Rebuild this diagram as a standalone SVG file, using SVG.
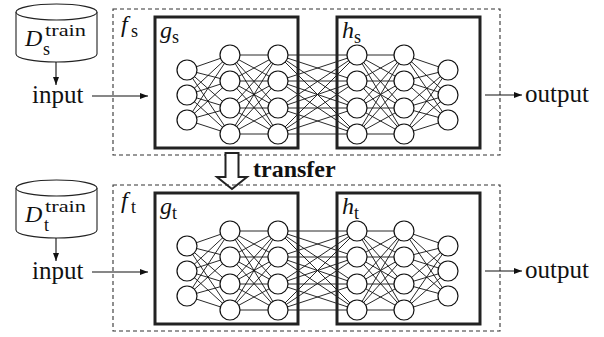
<svg xmlns="http://www.w3.org/2000/svg" xmlns:xlink="http://www.w3.org/1999/xlink" width="604" height="337" viewBox="0 0 604 337">
<style>
.dash{fill:none;stroke:#333;stroke-width:1.1;stroke-dasharray:4 3}
.box{fill:none;stroke:#222;stroke-width:3}
.edge{fill:none;stroke:#111;stroke-width:0.9}
.neu{fill:#fff;stroke:#111;stroke-width:1.2}
.conn{fill:none;stroke:#111;stroke-width:1.1}
.cyl{fill:#fff;stroke:#222;stroke-width:1.1}
text{fill:#111}
.it{font-style:italic}
.big{font-size:25px}
.lab{font-size:24px}
.sub{font-size:18px}
.sup{font-size:17px}
.bold{font-weight:bold;font-size:24px}
</style>
<defs>
<marker id="ah" viewBox="0 0 8 6" markerWidth="8" markerHeight="6" refX="8" refY="3" orient="auto" markerUnits="userSpaceOnUse">
<path d="M0 0L8 3L0 6z" fill="#111"/>
</marker>
<g id="net">
<path class="edge" d="M187 70L230 55M187 70L230 81M187 70L230 108M187 70L230 134M187 95L230 55M187 95L230 81M187 95L230 108M187 95L230 134M187 120L230 55M187 120L230 81M187 120L230 108M187 120L230 134"/>
<path class="edge" d="M230 55L278 55M230 55L278 81M230 55L278 108M230 55L278 134M230 81L278 55M230 81L278 81M230 81L278 108M230 81L278 134M230 108L278 55M230 108L278 81M230 108L278 108M230 108L278 134M230 134L278 55M230 134L278 81M230 134L278 108M230 134L278 134"/>
<path class="edge" d="M278 55L357 55M278 55L357 81M278 55L357 108M278 55L357 134M278 81L357 55M278 81L357 81M278 81L357 108M278 81L357 134M278 108L357 55M278 108L357 81M278 108L357 108M278 108L357 134M278 134L357 55M278 134L357 81M278 134L357 108M278 134L357 134"/>
<path class="edge" d="M357 55L404 55M357 55L404 81M357 55L404 108M357 55L404 134M357 81L404 55M357 81L404 81M357 81L404 108M357 81L404 134M357 108L404 55M357 108L404 81M357 108L404 108M357 108L404 134M357 134L404 55M357 134L404 81M357 134L404 108M357 134L404 134"/>
<path class="edge" d="M404 55L448 70M404 55L448 95M404 55L448 120M404 81L448 70M404 81L448 95M404 81L448 120M404 108L448 70M404 108L448 95M404 108L448 120M404 134L448 70M404 134L448 95M404 134L448 120"/>
<rect class="box" x="155" y="17" width="143" height="131"/>
<rect class="box" x="337" y="17" width="143" height="131"/>
<circle class="neu" cx="187" cy="70" r="10"/><circle class="neu" cx="187" cy="95" r="10"/><circle class="neu" cx="187" cy="120" r="10"/>
<circle class="neu" cx="230" cy="55" r="10"/><circle class="neu" cx="230" cy="81" r="10"/><circle class="neu" cx="230" cy="108" r="10"/><circle class="neu" cx="230" cy="134" r="10"/>
<circle class="neu" cx="278" cy="55" r="10"/><circle class="neu" cx="278" cy="81" r="10"/><circle class="neu" cx="278" cy="108" r="10"/><circle class="neu" cx="278" cy="134" r="10"/>
<circle class="neu" cx="357" cy="55" r="10"/><circle class="neu" cx="357" cy="81" r="10"/><circle class="neu" cx="357" cy="108" r="10"/><circle class="neu" cx="357" cy="134" r="10"/>
<circle class="neu" cx="404" cy="55" r="10"/><circle class="neu" cx="404" cy="81" r="10"/><circle class="neu" cx="404" cy="108" r="10"/><circle class="neu" cx="404" cy="134" r="10"/>
<circle class="neu" cx="448" cy="70" r="10"/><circle class="neu" cx="448" cy="95" r="10"/><circle class="neu" cx="448" cy="120" r="10"/>
</g>
<g id="cylinder">
<path class="cyl" d="M16 12V54A40.5 8 0 0 0 97 54V12"/>
<ellipse class="cyl" cx="56.5" cy="12" rx="40.5" ry="8"/>
</g>
</defs>
<rect width="604" height="337" fill="#fff"/>

<g font-family="'Liberation Serif', 'DejaVu Serif', serif">
<g id="source">
<g id="data-s">
<use xlink:href="#cylinder"/>
<text class="lab"><tspan class="it" x="25" y="46">D</tspan><tspan class="sup" x="45" y="36" textLength="41" lengthAdjust="spacingAndGlyphs">train</tspan><tspan class="sub" x="43" y="55">s</tspan></text>
</g>
<g id="input-s"><text class="big" x="32" y="103">input</text></g>
<g id="f-s">
<rect class="dash" x="113" y="9" width="387" height="146"/>
<text class="lab"><tspan class="it" x="121" y="32">f</tspan><tspan class="sub" x="131" y="37">s</tspan></text>
</g>
<g id="net-s">
<use xlink:href="#net"/>
</g>
<g id="g-s"><text class="lab"><tspan class="it" x="160" y="38">g</tspan><tspan class="sub" x="172" y="43">s</tspan></text></g>
<g id="h-s"><text class="lab"><tspan class="it" x="342" y="38">h</tspan><tspan class="sub" x="354" y="43">s</tspan></text></g>
<g id="output-s"><text class="big" x="525" y="102">output</text></g>
</g>

<g id="transfer">
<path d="M225.5 153H238.5V177H247L232 189L217 177H225.5Z" fill="#fff" stroke="#222" stroke-width="2" stroke-linejoin="miter"/>
<text class="bold" x="253" y="177">transfer</text>
</g>

<g id="target">
<g id="data-t">
<use xlink:href="#cylinder" y="176"/>
<text class="lab"><tspan class="it" x="25" y="222">D</tspan><tspan class="sup" x="45" y="212" textLength="41" lengthAdjust="spacingAndGlyphs">train</tspan><tspan class="sub" x="44" y="231">t</tspan></text>
</g>
<g id="input-t"><text class="big" x="32" y="279">input</text></g>
<g id="f-t">
<rect class="dash" x="113" y="185" width="387" height="146"/>
<text class="lab"><tspan class="it" x="121" y="208">f</tspan><tspan class="sub" x="131" y="213">t</tspan></text>
</g>
<g id="net-t">
<use xlink:href="#net" y="176"/>
</g>
<g id="g-t"><text class="lab"><tspan class="it" x="160" y="214">g</tspan><tspan class="sub" x="172" y="219">t</tspan></text></g>
<g id="h-t"><text class="lab"><tspan class="it" x="342" y="214">h</tspan><tspan class="sub" x="354" y="219">t</tspan></text></g>
<g id="output-t"><text class="big" x="525" y="278">output</text></g>
</g>
</g>

<g id="connectors">
<line class="conn" x1="56" y1="62" x2="56" y2="85" marker-end="url(#ah)"/>
<line class="conn" x1="92" y1="96" x2="148" y2="96" marker-end="url(#ah)"/>
<line class="conn" x1="485" y1="95" x2="522" y2="95" marker-end="url(#ah)"/>
<line class="conn" x1="56" y1="238" x2="56" y2="261" marker-end="url(#ah)"/>
<line class="conn" x1="92" y1="272" x2="148" y2="272" marker-end="url(#ah)"/>
<line class="conn" x1="485" y1="271" x2="522" y2="271" marker-end="url(#ah)"/>
</g>
</svg>
